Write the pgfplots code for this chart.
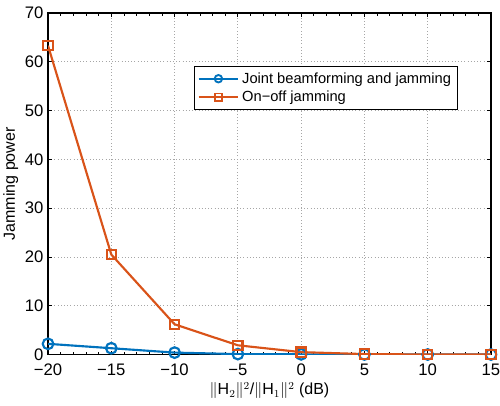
\documentclass[border=0pt]{standalone}
\usepackage{pgfplots}
\pgfplotsset{compat=1.18}
\usetikzlibrary{calc}
\usepackage{fontspec}
\setmainfont{Liberation Sans}
\definecolor{mblue}{RGB}{0,114,189}
\definecolor{morange}{RGB}{217,83,25}
\begin{document}
\begin{tikzpicture}
\begin{axis}[
  scale only axis,
  width=332pt, height=256pt,
  xmin=-20, xmax=15, ymin=0, ymax=70,
  xtick={-20,-15,...,15}, ytick={0,10,...,70},
  xticklabels={−20,−15,−10,−5,0,5,10,15},
  minor x tick num=4,
  tick align=inside,
  grid=major,
  major grid style={dotted, gray!70, line width=0.7pt},
  axis line style={line width=0.8pt},
  tick style={black, line width=0.6pt},
  major tick length=3pt, minor tick length=2pt,
  ticklabel style={font=\fontsize{12.5}{14}\selectfont},
  xticklabel style={yshift=-3.5pt},
  /pgf/number format/assume math mode=true,
  xlabel={$\|$H$_2\|^2$/$\|$H$_1\|^2$ (dB)},
  ylabel={Jamming power},
  label style={font=\fontsize{12}{14}\selectfont},
  xlabel style={yshift=2pt},
  ylabel style={yshift=-2pt},
  legend style={at={(0.329,0.846)}, anchor=north west, draw=black, line width=0.8pt,
    font=\fontsize{11}{13}\selectfont, inner sep=2.5pt, row sep=0pt,
    nodes={inner sep=2.2pt}},
  legend cell align=left,
  legend image code/.code={\draw[line width=1.6pt,mark repeat=2,mark phase=2,mark size=2.8pt,
    mark options={line width=1.4pt}]
    plot coordinates {(0cm,0cm) (0.52cm,0cm) (1.04cm,0cm)};},
]
\addplot[mblue, line width=1.6pt, mark=o, mark size=4pt, mark options={line width=1.6pt}]
coordinates {(-20,2.2) (-15,1.3) (-10,0.4) (-5,0.1) (0,0.05) (5,0.02) (10,0.01) (15,0.01)};
\addlegendentry{Joint beamforming and jamming}
\addplot[morange, line width=1.6pt, mark=square, mark size=3.5pt, mark options={line width=1.6pt}]
coordinates {(-20,63.3) (-15,20.5) (-10,6.2) (-5,1.9) (0,0.5) (5,0.1) (10,0.02) (15,0.01)};
\addlegendentry{On−off jamming}
\end{axis}
\pgfresetboundingbox
\path[use as bounding box] ($(current axis.south west)+(-36pt,-38.25pt)$) rectangle ($(current axis.north east)+(6.75pt,9.75pt)$);
\end{tikzpicture}
\end{document}
